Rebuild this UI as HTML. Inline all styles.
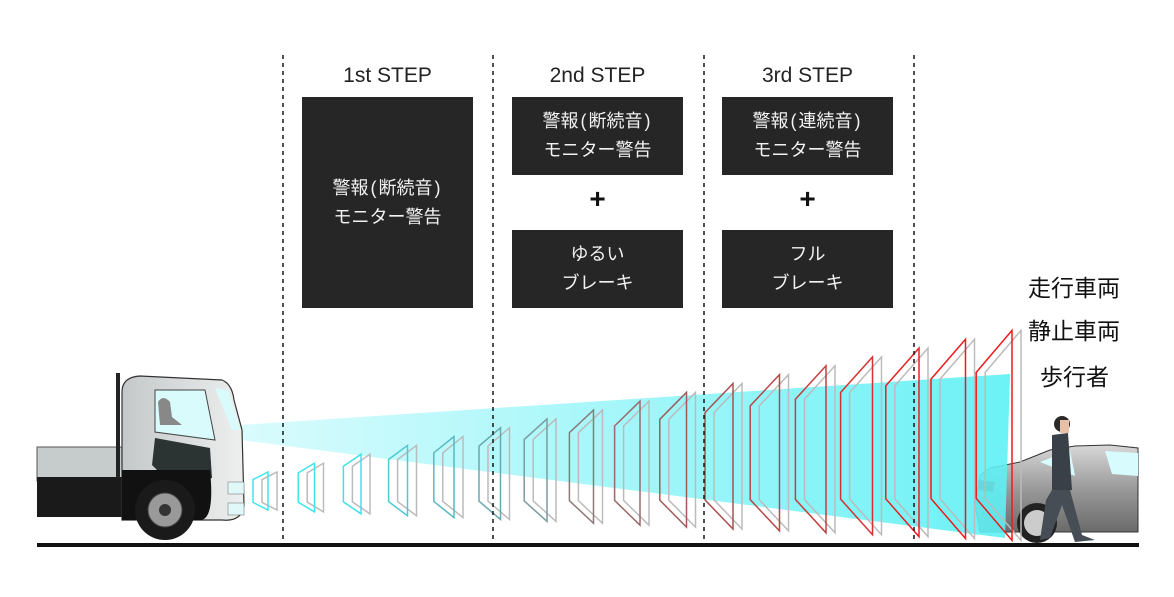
<!DOCTYPE html>
<html><head><meta charset="utf-8">
<style>
html,body{margin:0;padding:0;background:#fff;}
body{width:1174px;height:597px;overflow:hidden;position:relative;font-family:"Liberation Sans","Noto Sans CJK JP",sans-serif;}
svg{position:absolute;left:0;top:0;}
.step{position:absolute;width:171px;text-align:center;font-size:21px;color:#222;top:64px;}
.box{position:absolute;width:171px;background:#262626;color:#f2f2f2;font-size:18px;line-height:29px;text-align:center;display:flex;align-items:center;justify-content:center;}
.box i{font-style:normal;margin:0 2px;}
.plus{position:absolute;width:171px;text-align:center;font-size:28px;font-weight:bold;top:183px;color:#111;}
.rt{position:absolute;left:1028px;font-size:23px;color:#111;}
</style></head><body>
<svg width="1174" height="597" id="s">
<defs>
<linearGradient id="beam" x1="0" x2="1" y1="0" y2="0">
<stop offset="0" stop-color="#d6fbfd"/><stop offset="1" stop-color="#5cf0f4"/>
</linearGradient>
<linearGradient id="carg" x1="0" x2="0" y1="0" y2="1">
<stop offset="0" stop-color="#d8d8d8"/><stop offset="0.5" stop-color="#9a9a9a"/><stop offset="1" stop-color="#6a6a6a"/>
</linearGradient>
<linearGradient id="cab" x1="0" x2="1"><stop offset="0" stop-color="#c4c8c8"/><stop offset="1" stop-color="#eef0f0"/></linearGradient>
</defs>
<path d="M980,475 L990,468 1020,462 1050,450 1075,446 1110,445 1138,448 1138,532 980,532 975,505 Z" fill="url(#carg)" stroke="#333" stroke-width="1"/>
<path d="M1040,462 L1070,450 1075,476 Z" fill="#d8fbfd"/>
<path d="M1105,451 L1138,453 1138,476 1112,474 Z" fill="#d8fbfd"/>
<circle cx="1037" cy="523" r="20" fill="#222"/><circle cx="1037" cy="523" r="13" fill="#ccc"/>
<path d="M978,480 L995,482 993,492 978,490Z" fill="#900"/>
<circle cx="1062" cy="424" r="8" fill="#2a2a2a"/><rect x="1060" y="420" width="9" height="13" fill="#e8c0a8"/>
<path d="M1052,435 L1068,433 1072,490 1052,492 Z" fill="#3a4048"/>
<path d="M1052,490 L1070,490 1082,535 1095,540 1075,542 1062,505 1050,538 1040,540 1046,500 Z" fill="#474d55"/>
<polygon points="240,425 1010,374 1005,538 240,440" fill="url(#beam)" opacity="0.9"/>
<g id="frames"></g>
<rect x="37" y="447" width="200" height="34" fill="#c6cbcb" stroke="#555" stroke-width="1"/>
<rect x="37" y="477" width="90" height="40" fill="#1a1a1a"/>
<rect x="116" y="373" width="4" height="105" fill="#222"/>
<path d="M122,392 Q122,377 140,376 L222,380 Q232,384 234,400 L242,430 244,505 Q242,522 222,520 L122,520 Z" fill="url(#cab)" stroke="#333" stroke-width="1.2"/>
<path d="M155,390 L205,390 215,440 155,432 Z" fill="#dafbfc" stroke="#444"/>
<path d="M158,402 q5,-8 12,0 l2,15 10,8 -22,0z" fill="#888"/>
<path d="M155,438 L210,448 212,478 Q200,482 165,478 L152,465 Z" fill="#2b3333"/>
<path d="M215,388 L228,390 240,430 232,430 Z" fill="#dafbfc"/>
<rect x="228" y="482" width="16" height="12" fill="#e0f8f8" stroke="#666" stroke-width="0.5"/>
<rect x="228" y="503" width="16" height="12" fill="#e0f8f8" stroke="#666" stroke-width="0.5"/>
<path d="M122,470 L210,470 Q215,520 200,520 L122,520Z" fill="#111"/>
<circle cx="165" cy="510" r="30" fill="#1a1a1a"/><circle cx="165" cy="510" r="17" fill="#999" stroke="#444"/><circle cx="165" cy="510" r="6" fill="#333"/>
<g stroke="#222" stroke-width="1.6" stroke-dasharray="4,4">
<line x1="283" y1="55" x2="283" y2="545"/><line x1="493" y1="55" x2="493" y2="545"/>
<line x1="704" y1="55" x2="704" y2="545"/><line x1="914" y1="55" x2="914" y2="545"/>
</g>
<rect x="37" y="543" width="1102" height="4" fill="#111"/>
</svg>
<div class="step" style="left:302px">1st STEP</div>
<div class="step" style="left:512px">2nd STEP</div>
<div class="step" style="left:722px">3rd STEP</div>
<div class="box" style="left:302px;top:97px;height:211px"><div>警報<i>(</i>断続音<i>)</i><br>モニター警告</div></div>
<div class="box" style="left:512px;top:97px;height:78px"><div>警報<i>(</i>断続音<i>)</i><br>モニター警告</div></div>
<div class="box" style="left:722px;top:97px;height:78px"><div>警報<i>(</i>連続音<i>)</i><br>モニター警告</div></div>
<div class="plus" style="left:512px">+</div>
<div class="plus" style="left:722px">+</div>
<div class="box" style="left:512px;top:230px;height:78px"><div>ゆるい<br>ブレーキ</div></div>
<div class="box" style="left:722px;top:230px;height:78px"><div>フル<br>ブレーキ</div></div>
<div class="rt" style="top:269px">走行車両</div>
<div class="rt" style="top:312px">静止車両</div>
<div class="rt" style="top:358px;left:1040px">歩行者</div>
<script>
var g=document.getElementById('frames'),h='';
var cols=['#3ee6ee','#3ee6ee','#40e0e8','#50c8d0','#5ab8c0','#6aa8b0','#7a9ca0','#8a7a7a','#9a6a6a','#a05a5a','#a85050','#b84848','#c83c3c','#d83030','#e82020','#ee1a1a','#ee1a1a'];
for(var i=0;i<17;i++){
 var L=253+i*45.2,w=15+i*1.3,R=L+w,hh=38+i*10.75,b=510+i*1.9,t=b-hh,c=(t+b)/2,lh=hh*0.6;
 function q(dx){return (L+dx)+','+(c-lh/2)+' '+(R+dx)+','+t+' '+(R+dx)+','+b+' '+(L+dx)+','+(c+lh/2);}
 h+='<polygon points="'+q(9)+'" fill="none" stroke="#bbb" stroke-width="1.5"/>';
 h+='<polygon points="'+q(0)+'" fill="none" stroke="'+cols[i]+'" stroke-width="1.5"/>';
}
g.innerHTML=h;
</script>
</body></html>
